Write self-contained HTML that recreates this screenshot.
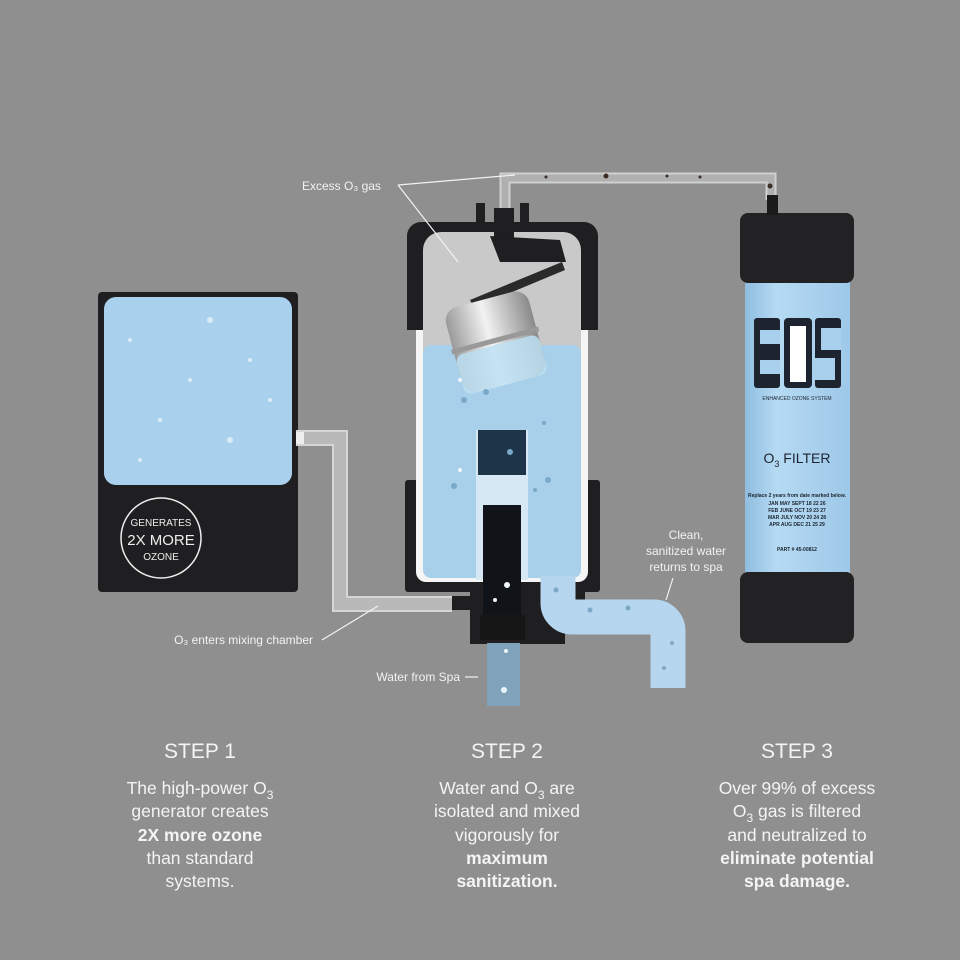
<!DOCTYPE html>
<html><head><meta charset="utf-8"><style>
html,body{margin:0;padding:0;background:#8f8f8f}
svg{display:block}
text{font-family:"Liberation Sans",sans-serif}
</style></head><body>
<svg width="960" height="960" viewBox="0 0 960 960" xmlns="http://www.w3.org/2000/svg">
<rect width="960" height="960" fill="#8f8f8f"/>
<defs>
<linearGradient id="fb" x1="0" x2="1"><stop offset="0" stop-color="#8fbde0"/><stop offset=".3" stop-color="#b5daf3"/><stop offset="1" stop-color="#9ec8e8"/></linearGradient>
<linearGradient id="fl" x1="0" x2="1"><stop offset="0" stop-color="#9a9a9a"/><stop offset=".45" stop-color="#f2f2f2"/><stop offset="1" stop-color="#8a8a8a"/></linearGradient>
</defs>

<!-- generator -->
<rect x="98" y="292" width="200" height="300" rx="4" fill="#1f1f21"/>
<rect x="104" y="297" width="188" height="188" rx="12" fill="#a9d0ec"/>
<circle cx="161" cy="538" r="40" fill="none" stroke="#eee" stroke-width="1.5"/>
<text x="161" y="526" font-size="10" fill="#eee" text-anchor="middle">GENERATES</text>
<text x="161" y="545" font-size="15" fill="#eee" text-anchor="middle">2X MORE</text>
<text x="161" y="560" font-size="10" fill="#eee" text-anchor="middle">OZONE</text>
<g fill="#e8f3fb" opacity=".8"><circle cx="130" cy="340" r="2"/><circle cx="210" cy="320" r="3"/><circle cx="250" cy="360" r="2"/><circle cx="160" cy="420" r="2"/><circle cx="230" cy="440" r="3"/><circle cx="270" cy="400" r="2"/><circle cx="140" cy="460" r="2"/><circle cx="190" cy="380" r="2"/></g>

<!-- O3 tube from generator -->
<path d="M296 438 H340 V604 H452" fill="none" stroke="#d6d6d6" stroke-width="16"/>
<path d="M296 438 H340 V604 H452" fill="none" stroke="#b9b9b9" stroke-width="12"/>
<rect x="296" y="432" width="8" height="12" fill="#eee"/>

<!-- top tube -->
<path d="M505 222 V178 H771 V200" fill="none" stroke="#d0d0d0" stroke-width="11"/>
<path d="M505 222 V178 H771 V200" fill="none" stroke="#b0b0b0" stroke-width="7"/>
<g fill="#3a2e26"><circle cx="546" cy="177" r="1.5"/><circle cx="606" cy="176" r="2.5"/><circle cx="667" cy="176" r="1.5"/><circle cx="700" cy="177" r="1.5"/><circle cx="770" cy="186" r="2.5"/></g>

<!-- chamber -->
<rect x="405" y="480" width="195" height="112" rx="3" fill="#1f1f21"/>
<rect x="470" y="588" width="95" height="56" fill="#1f1f21"/>
<rect x="565" y="592" width="20" height="12" fill="#1f1f21"/>
<rect x="416" y="320" width="172" height="262" rx="10" fill="#f5f5f5"/>
<rect x="423" y="232" width="158" height="346" rx="14" fill="#c9c9c9"/>
<rect x="423" y="345" width="158" height="233" rx="8" fill="#a8d0ea"/>
<path d="M407 330 V236 a14 14 0 0 1 14 -14 H584 a14 14 0 0 1 14 14 V330 H581 V250 a18 18 0 0 0 -18 -18 H441 a18 18 0 0 0 -18 18 V330 Z" fill="#1f1f21"/>
<rect x="476" y="203" width="9" height="22" fill="#1f1f21"/>
<rect x="520" y="203" width="9" height="22" fill="#1f1f21"/>
<rect x="494" y="208" width="20" height="32" fill="#1f1f21"/>
<path d="M490 236 L560 240 L566 262 L500 262 Z" fill="#1f1f21"/>
<path d="M470 300 L562 262 L565 270 L474 308 Z" fill="#2a2a2a"/>
<g transform="rotate(-15 495 340)">
<rect x="452" y="298" width="86" height="88" rx="14" fill="url(#fl)"/>
<rect x="452" y="345" width="86" height="41" rx="8" fill="#bcdff2" opacity=".85"/>
<rect x="450" y="338" width="90" height="5" fill="#999"/>
</g>
<rect x="476" y="430" width="52" height="150" fill="#d6e8f4"/>
<rect x="478" y="430" width="48" height="45" fill="#1e3448"/>
<rect x="483" y="505" width="38" height="115" fill="#101418"/>
<rect x="480" y="615" width="45" height="25" fill="#161616"/>
<rect x="452" y="596" width="24" height="14" fill="#1f1f21"/>
<g fill="#7aa8c8"><circle cx="486" cy="392" r="3"/><circle cx="464" cy="400" r="3"/><circle cx="510" cy="452" r="3"/><circle cx="548" cy="480" r="3"/><circle cx="454" cy="486" r="3"/><circle cx="544" cy="423" r="2"/><circle cx="535" cy="490" r="2"/></g>
<g fill="#f0f6fb"><circle cx="460" cy="380" r="2"/><circle cx="460" cy="470" r="2"/><circle cx="507" cy="585" r="3"/><circle cx="495" cy="600" r="2"/></g>

<!-- water from spa pipe -->
<rect x="487" y="643" width="33" height="63" fill="#7fa3ba"/>
<circle cx="506" cy="651" r="2" fill="#eaf3f9"/><circle cx="504" cy="690" r="3" fill="#eaf3f9"/>
<!-- clean pipe -->
<path d="M558 576 V603 a14 14 0 0 0 14 14 H654 a14 14 0 0 1 14 14 V688" fill="none" stroke="#b5d6ee" stroke-width="35"/>
<g fill="#7fa8c6"><circle cx="556" cy="590" r="2.5"/><circle cx="590" cy="610" r="2.5"/><circle cx="628" cy="608" r="2.5"/><circle cx="672" cy="643" r="2"/><circle cx="664" cy="668" r="2"/></g>

<!-- filter -->
<rect x="745" y="270" width="105" height="315" fill="url(#fb)"/>
<rect x="740" y="213" width="114" height="70" rx="8" fill="#222224"/>
<rect x="740" y="572" width="114" height="71" rx="8" fill="#222224"/>
<rect x="767" y="195" width="11" height="20" fill="#1a1a1a"/>
<g fill="#1d2430">
<rect x="754" y="318" width="26" height="70" rx="3"/>
<rect x="784" y="318" width="28" height="70" rx="4"/>
<rect x="815" y="318" width="26" height="70" rx="3"/>
</g>
<rect x="760" y="330" width="20" height="14" fill="#a8d0ec"/><rect x="760" y="360" width="20" height="14" fill="#a8d0ec"/>
<rect x="790" y="326" width="16" height="56" fill="#fff"/>
<rect x="821" y="328" width="20" height="22" fill="#a8d0ec"/><rect x="815" y="358" width="20" height="22" fill="#a8d0ec"/>
<text x="797" y="400" font-size="5" fill="#1d2430" text-anchor="middle">ENHANCED  OZONE  SYSTEM</text>
<text x="797" y="463" font-size="14" fill="#1d2430" text-anchor="middle">O<tspan font-size="9" dy="4">3</tspan><tspan dy="-4"> FILTER</tspan></text>
<g font-size="5" fill="#1d2430" text-anchor="middle" font-weight="bold">
<text x="797" y="497">Replace 2 years from date marked below.</text>
<text x="797" y="505">JAN   MAY   SEPT   18  22  26</text>
<text x="797" y="512">FEB   JUNE  OCT   19  23  27</text>
<text x="797" y="519">MAR   JULY  NOV   20  24  28</text>
<text x="797" y="526">APR   AUG   DEC   21  25  29</text>
<text x="797" y="551">PART # 45-00812</text>
</g>

<!-- labels -->
<g fill="#f2f2f2" font-size="12">
<text x="302" y="190">Excess O₃ gas</text>
<text x="686" y="539" text-anchor="middle">Clean,</text>
<text x="686" y="555" text-anchor="middle">sanitized water</text>
<text x="686" y="571" text-anchor="middle">returns to spa</text>
<text x="313" y="644" text-anchor="end">O₃ enters mixing chamber</text>
<text x="460" y="681" text-anchor="end">Water from Spa</text>
</g>
<g stroke="#f2f2f2" stroke-width="1.2">
<line x1="398" y1="185" x2="515" y2="175"/>
<line x1="398" y1="185" x2="458" y2="262"/>
<line x1="673" y1="578" x2="666" y2="600"/>
<line x1="322" y1="640" x2="378" y2="606"/>
<line x1="465" y1="677" x2="478" y2="677"/>
</g>

<!-- steps -->
<g fill="#f4f4f4" text-anchor="middle">
<text x="200" y="758" font-size="21">STEP 1</text>
<text x="507" y="758" font-size="21">STEP 2</text>
<text x="797" y="758" font-size="21">STEP 3</text>
<g font-size="17.5">
<text x="200" y="794">The high-power O<tspan font-size="12" dy="5">3</tspan></text>
<text x="200" y="817">generator creates</text>
<text x="200" y="841" font-weight="bold">2X more ozone</text>
<text x="200" y="864">than standard</text>
<text x="200" y="887">systems.</text>
<text x="507" y="794">Water and O<tspan font-size="12" dy="5">3</tspan><tspan dy="-5"> are</tspan></text>
<text x="507" y="817">isolated and mixed</text>
<text x="507" y="841">vigorously for</text>
<text x="507" y="864" font-weight="bold">maximum</text>
<text x="507" y="887" font-weight="bold">sanitization.</text>
<text x="797" y="794">Over 99% of excess</text>
<text x="797" y="817">O<tspan font-size="12" dy="5">3</tspan><tspan dy="-5"> gas is filtered</tspan></text>
<text x="797" y="841">and neutralized to</text>
<text x="797" y="864" font-weight="bold">eliminate potential</text>
<text x="797" y="887" font-weight="bold">spa damage.</text>
</g>
</g>
</svg>
</body></html>
